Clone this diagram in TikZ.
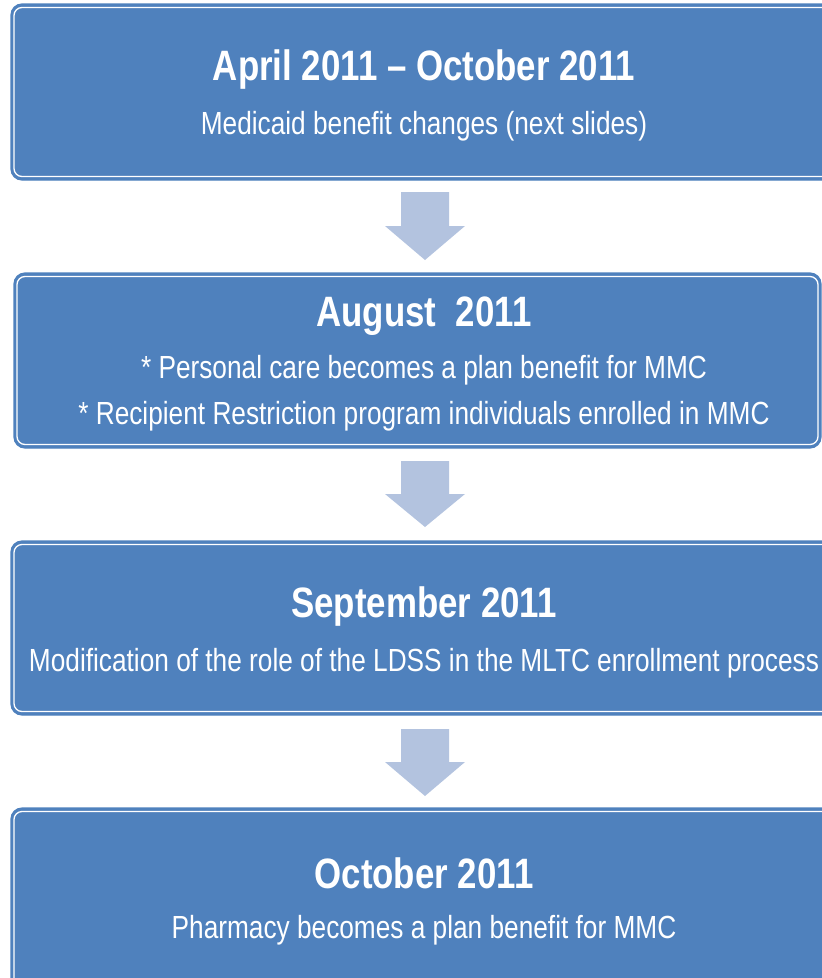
\documentclass[tikz,border=0pt]{standalone}
\usepackage{fontspec}
\setmainfont{Liberation Sans}[FakeStretch=0.82]
\definecolor{boxblue}{HTML}{4F81BD}
\definecolor{arrowblue}{HTML}{B3C3DF}
\begin{document}
\begin{tikzpicture}[x=1pt,y=-1pt,
  outerbox/.style={fill=boxblue,draw=boxblue,line width=1.2pt,rounded corners=11pt},
  innerline/.style={draw=white,line width=1.3pt,rounded corners=8pt},
  title/.style={text=white,font=\fontsize{42.5}{45}\selectfont\bfseries,anchor=center,inner sep=0pt},
  body/.style={text=white,font=\fontsize{32}{35}\selectfont,anchor=center,inner sep=0pt},
  downarrow/.style={fill=arrowblue,draw=none}]
\useasboundingbox (0,0) rectangle (822,978);
\clip (0,0) rectangle (822,978);
% boxes
\draw[outerbox] (11,4) rectangle (840,180);
\draw[innerline] (14,7.5) rectangle (837,176.5);
\draw[outerbox] (14,273) rectangle (821,448);
\draw[innerline] (17,276.5) rectangle (818,444.5);
\draw[outerbox] (11,541) rectangle (840,715);
\draw[innerline] (14,544.5) rectangle (837,711.5);
\draw[outerbox] (11,808) rectangle (840,995);
\draw[innerline] (14,811.5) rectangle (837,991.5);
% texts
\node[title] (t1) at (424,69.5) {April 2011 – October 2011};
\node[body] (b1) at (424,126) {Medicaid benefit changes (next slides)};
\node[title] (t2) at (424,316.5) {August\ \ 2011};
\node[body] (b2a) at (424,370) {* Personal care becomes a plan benefit for MMC};
\node[body] (b2b) at (424,416) {* Recipient Restriction program individuals enrolled in MMC};
\node[title] (t3) at (424,606.5) {September 2011};
\node[body] (b3) at (424,663) {Modification of the role of the LDSS in the MLTC enrollment process};
\node[title] (t4) at (424,873.5) {October 2011};
\node[body] (b4) at (424,930) {Pharmacy becomes a plan benefit for MMC};
% arrows
\fill[downarrow] (401,192) -- (449,192) -- (449,226) -- (465,226) -- (425,260) -- (385,226) -- (401,226) -- cycle;
\fill[downarrow] (401,461) -- (449,461) -- (449,494) -- (465,494) -- (425,527) -- (385,494) -- (401,494) -- cycle;
\fill[downarrow] (401,729) -- (449,729) -- (449,762) -- (465,762) -- (425,796) -- (385,762) -- (401,762) -- cycle;
\end{tikzpicture}
\end{document}
